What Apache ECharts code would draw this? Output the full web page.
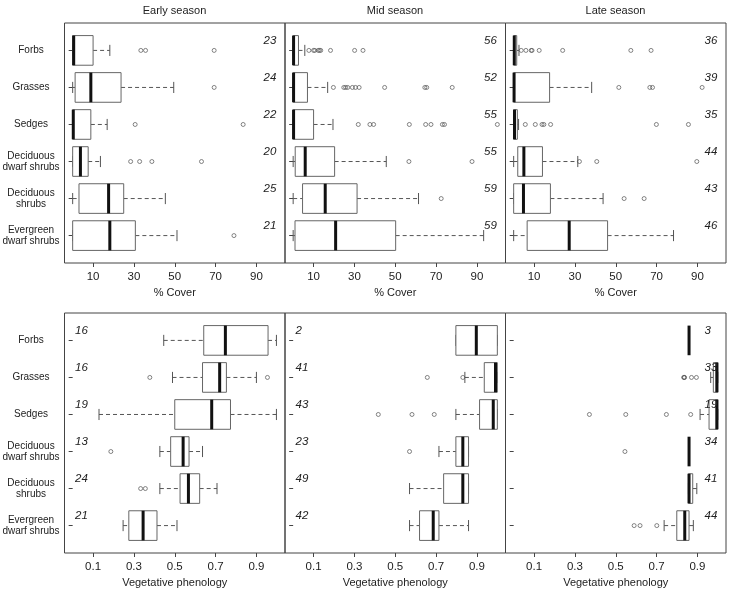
<!DOCTYPE html>
<html>
<head>
<meta charset="utf-8">
<script src="https://cdn.jsdelivr.net/npm/echarts@6/dist/echarts.min.js"></script>
<style>
html,body{margin:0;padding:0;background:#fff;}
#chart{width:729px;height:592px;}
</style>
</head>
<body>
<div id="chart"></div>
<script>
// ---------- data ----------
const categories = ['Forbs', 'Grasses', 'Sedges', 'Deciduous\ndwarf shrubs', 'Deciduous\nshrubs', 'Evergreen\ndwarf shrubs'];
const seasons = ['Early season', 'Mid season', 'Late season'];
const coverTicks = [10, 30, 50, 70, 90];
const phenoTicks = [0.1, 0.3, 0.5, 0.7, 0.9];

// stats per category: [lower whisker, Q1, median, Q3, upper whisker]
const coverEarlyStats = [[0, 0, 0.5, 10, 18.2], [0, 1.2, 8.9, 23.7, 49.5], [0, 0, 0.3, 8.9, 16.9], [0, 0, 3.8, 7.6, 13.6], [0, 3.1, 17.6, 25, 45.4], [0, 0, 18.2, 30.7, 51.1]];
const coverEarlyOut = [[33.4, 35.7, 69.3], [69.3], [30.6, 83.5], [28.4, 32.8, 38.8, 63.1], [], [79]];
const coverEarlyN = [23, 24, 22, 20, 25, 21];

const coverMidStats = [[0, 0, 0.2, 2.6, 5.7], [0, 0, 0.2, 7, 16.9], [0, 0, 0.2, 10, 19.5], [0, 1, 5.9, 20.3, 45.6], [0, 4.6, 15.7, 31.3, 61.4], [0, 0.9, 20.8, 50.2, 93.3]];
const coverMidOut = [[7.7, 10, 10.6, 12.3, 12.9, 13.5, 18.3, 30.1, 34.2], [19.7, 24.8, 25.7, 26.7, 29, 30.5, 32.3, 44.8, 64.5, 65.4, 77.9], [31.9, 37.6, 39.4, 56.9, 64.9, 67.5, 73.1, 74.1, 100], [56.7, 87.6], [72.5], []];
const coverMidN = [56, 52, 55, 55, 59, 59];

const coverLateStats = [[0, 0, 0.3, 1.5, 2.6], [0, 0, 0.2, 17.6, 38.2], [0, 0, 0.4, 1.8, 2.4], [0, 2, 5, 14.1, 31.4], [0, 0, 4.8, 18, 43.8], [0, 6.6, 27.2, 46, 78.3]];
const coverLateOut = [[3.7, 6, 8.6, 9, 12.5, 24, 57.4, 67.3], [51.5, 66.7, 68, 92.3], [5.7, 10.6, 13.9, 14.8, 18.1, 69.9, 85.6], [32.2, 40.7, 89.7], [54.1, 63.9], []];
const coverLateN = [36, 39, 35, 44, 43, 46];

const phenoEarlyStats = [[0.446, 0.642, 0.748, 0.957, 0.998], [0.489, 0.636, 0.72, 0.753, 0.9], [0.129, 0.5, 0.681, 0.773, 0.998], [0.427, 0.48, 0.541, 0.57, 0.636], [0.427, 0.526, 0.567, 0.622, 0.707], [0.247, 0.275, 0.345, 0.413, 0.511]];
const phenoEarlyOut = [[], [0.378, 0.954], [], [0.187], [0.333, 0.356], []];
const phenoEarlyN = [16, 16, 19, 13, 24, 21];

const phenoMidStats = [[0.797, 0.797, 0.897, 1.0, 1.0], [0.841, 0.936, 0.991, 1.0, 1.0], [0.797, 0.913, 0.98, 1.0, 1.0], [0.714, 0.797, 0.831, 0.859, 0.859], [0.57, 0.737, 0.831, 0.859, 0.859], [0.57, 0.619, 0.686, 0.714, 0.859]];
const phenoMidOut = [[], [0.657, 0.831], [0.417, 0.582, 0.691], [0.57], [], []];
const phenoMidN = [2, 41, 43, 23, 49, 42];

const phenoLateStats = [[0.859, 0.859, 0.859, 0.859, 0.859], [0.965, 0.978, 0.995, 1.0, 1.0], [0.913, 0.957, 0.995, 1.0, 1.0], [0.859, 0.859, 0.859, 0.859, 0.859], [0.856, 0.856, 0.859, 0.877, 0.897], [0.737, 0.799, 0.838, 0.859, 0.88]];
const phenoLateOut = [[], [0.833, 0.835, 0.837, 0.871, 0.895], [0.371, 0.549, 0.748, 0.867], [0.545], [], [0.59, 0.619, 0.701]];
const phenoLateN = [3, 33, 19, 34, 41, 44];

// ---------- layout / build ----------
const FONT = '"Liberation Sans", Arial, sans-serif';
const panels = [
  {stats: coverEarlyStats, out: coverEarlyOut, n: coverEarlyN, kind: 'cover', nX: 93.5},
  {stats: coverMidStats, out: coverMidOut, n: coverMidN, kind: 'cover', nX: 93.5},
  {stats: coverLateStats, out: coverLateOut, n: coverLateN, kind: 'cover', nX: 93.5},
  {stats: phenoEarlyStats, out: phenoEarlyOut, n: phenoEarlyN, kind: 'pheno', nX: 0.012},
  {stats: phenoMidStats, out: phenoMidOut, n: phenoMidN, kind: 'pheno', nX: 0.012},
  {stats: phenoLateStats, out: phenoLateOut, n: phenoLateN, kind: 'pheno', nX: 0.935}
];

const grids = [], xAxes = [], yAxes = [], series = [];
const rowIdx = [1, 2, 3, 4, 5, 6];

function makeRender(nX) {
  return function (params, api) {
    const row = api.value(0);
    const lo = api.value(1), q1 = api.value(2), med = api.value(3), q3 = api.value(4), hi = api.value(5), n = api.value(6);
    const rowH = Math.abs(api.coord([0, 2])[1] - api.coord([0, 1])[1]);
    const bh = 0.8 * rowH, ch = 0.3 * rowH;
    const pLo = api.coord([lo, row]), pQ1 = api.coord([q1, row]), pMed = api.coord([med, row]),
      pQ3 = api.coord([q3, row]), pHi = api.coord([hi, row]);
    const y = pMed[1];
    const wStyle = {stroke: '#555', lineWidth: 1, lineDash: [4, 3]};
    const cStyle = {stroke: '#555', lineWidth: 1};
    const children = [];
    if (pQ1[0] - pLo[0] > 0.5) children.push({type: 'line', shape: {x1: pLo[0], y1: y, x2: pQ1[0], y2: y}, style: wStyle});
    if (pHi[0] - pQ3[0] > 0.5) children.push({type: 'line', shape: {x1: pQ3[0], y1: y, x2: pHi[0], y2: y}, style: wStyle});
    children.push({type: 'line', shape: {x1: pLo[0], y1: y - ch / 2, x2: pLo[0], y2: y + ch / 2}, style: cStyle});
    children.push({type: 'line', shape: {x1: pHi[0], y1: y - ch / 2, x2: pHi[0], y2: y + ch / 2}, style: cStyle});
    if (pQ3[0] - pQ1[0] > 0.5) {
      children.push({type: 'rect', shape: {x: pQ1[0], y: y - bh / 2, width: pQ3[0] - pQ1[0], height: bh},
        style: {fill: '#fff', stroke: '#666', lineWidth: 1}});
    }
    children.push({type: 'line', shape: {x1: pMed[0], y1: y - bh / 2, x2: pMed[0], y2: y + bh / 2},
      style: {stroke: '#111', lineWidth: 3}});
    const pN = api.coord([nX, row - 0.27]);
    children.push({type: 'text', x: pN[0], y: pN[1],
      style: {text: String(n), fill: '#222', fontSize: 11.5, fontStyle: 'italic', fontFamily: FONT, align: 'left', verticalAlign: 'middle'}});
    return {type: 'group', children: children};
  };
}

panels.forEach(function (p, i) {
  const r = Math.floor(i / 3), c = i % 3;
  grids.push({left: 64.5 + 220.5 * c, top: r === 0 ? 23 : 313, width: 220.5, height: 240,
    show: true, borderColor: '#444', borderWidth: 1, backgroundColor: 'transparent',
    containLabel: false, outerBoundsMode: 'none'});
  const ticks = p.kind === 'cover' ? coverTicks : phenoTicks;
  xAxes.push({
    type: 'value', gridIndex: i,
    min: p.kind === 'cover' ? -4 : -0.04, max: p.kind === 'cover' ? 104 : 1.04,
    axisLine: {show: false}, splitLine: {show: false},
    axisTick: {show: true, length: 4, customValues: ticks, lineStyle: {color: '#444'}},
    axisLabel: {show: true, customValues: ticks, margin: 8, fontSize: 11.5, color: '#222', fontFamily: FONT,
      formatter: function (v) { return p.kind === 'cover' ? String(Math.round(v)) : Number(v).toFixed(1); }},
    name: p.kind === 'cover' ? '% Cover' : 'Vegetative phenology',
    nameLocation: 'middle', nameGap: 24,
    nameTextStyle: {fontSize: 11, color: '#222', fontFamily: FONT}
  });
  yAxes.push({
    type: 'value', gridIndex: i, inverse: true, min: 0.26, max: 6.74,
    axisLine: {show: false}, splitLine: {show: false},
    axisTick: {show: true, length: 4, customValues: rowIdx, lineStyle: {color: '#444'}},
    axisLabel: {show: c === 0, customValues: rowIdx, margin: 33.5, align: 'center', fontSize: 10, lineHeight: 10.5,
      color: '#222', fontFamily: FONT,
      formatter: function (v) { return categories[Math.round(v) - 1] || ''; }}
  });
  series.push({
    type: 'custom', xAxisIndex: i, yAxisIndex: i, silent: true,
    renderItem: makeRender(p.nX),
    encode: {x: [1, 2, 3, 4, 5], y: 0},
    data: p.stats.map(function (s, k) { return [k + 1].concat(s).concat([p.n[k]]); })
  });
  const outData = [];
  p.out.forEach(function (arr, k) { arr.forEach(function (v) { outData.push([v, k + 1]); }); });
  series.push({
    type: 'scatter', xAxisIndex: i, yAxisIndex: i, silent: true,
    symbol: 'circle', symbolSize: 4,
    itemStyle: {color: 'rgba(0,0,0,0)', borderColor: '#555', borderWidth: 0.9},
    data: outData
  });
});

const titleCenters = [174.5, 395, 615.5];
const graphics = seasons.map(function (s, k) {
  return {type: 'text', x: titleCenters[k], y: 11,
    style: {text: s, fill: '#222', fontSize: 11, fontFamily: FONT, align: 'center', verticalAlign: 'middle'}};
});

const chart = echarts.init(document.getElementById('chart'), null, {renderer: 'canvas'});
chart.setOption({
  animation: false,
  backgroundColor: '#fff',
  grid: grids,
  xAxis: xAxes,
  yAxis: yAxes,
  series: series,
  graphic: graphics
});
</script>
</body>
</html>
